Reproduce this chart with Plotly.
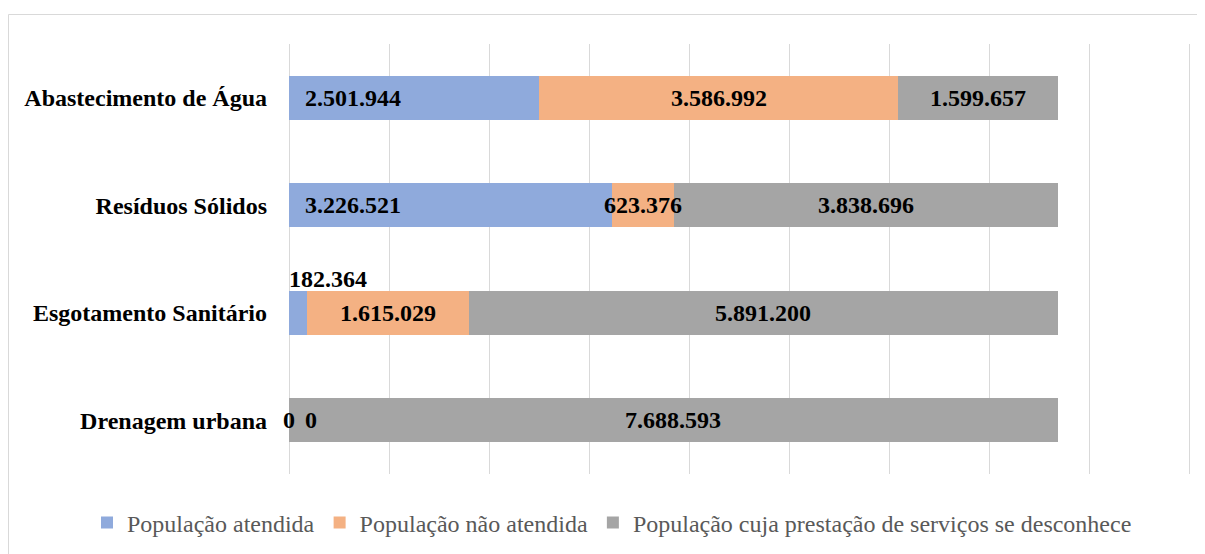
import plotly.graph_objects as go

categories = ["Abastecimento de Água", "Resíduos Sólidos", "Esgotamento Sanitário", "Drenagem urbana"]
series_names = ["População atendida", "População não atendida", "População cuja prestação de serviços se desconhece"]
atendida = [2501944, 3226521, 182364, 0]
nao_atendida = [3586992, 623376, 1615029, 0]
desconhece = [1599657, 3838696, 5891200, 7688593]
colors = ["#8FAADC", "#F4B183", "#A5A5A5"]

series = [atendida, nao_atendida, desconhece]

def fmt(v):
    return f"{v:,}".replace(",", ".")

# page body has an 8px margin: figure is laid out in its own coordinates
W, H = 1197, 546
L, T = 281, 36
PLOT_W, PLOT_H = 902, 430
X_MAX = 9020000  # 100 px per million, last gridline (9 M) stays inside the plot

fig = go.Figure()
for name, vals, col in zip(series_names, series, colors):
    fig.add_trace(go.Bar(
        y=categories, x=vals, name=name, orientation="h",
        marker=dict(color=col, line=dict(width=0)),
        hoverinfo="x+name",
    ))

FONT = "Liberation Serif, Times New Roman, serif"
label_font = dict(family=FONT, size=24, color="#000000")
annotations = []
for i, cat in enumerate(categories):
    base = 0
    for s, vals in enumerate(series):
        v = vals[i]
        txt = "<b>" + fmt(v) + "</b>"
        if v == 0:
            annotations.append(dict(x=0, y=cat, text=txt, showarrow=False, font=label_font,
                                    xanchor="center", xshift=0 if s == 0 else 22))
        elif s == 0 and v < 500000:
            annotations.append(dict(x=0, y=cat, text=txt, showarrow=False, font=label_font,
                                    xanchor="left", xshift=-2, yshift=34))
        elif s == 0:
            annotations.append(dict(x=0, y=cat, text=txt, showarrow=False, font=label_font,
                                    xanchor="left", xshift=14))
        else:
            annotations.append(dict(x=base + v / 2, y=cat, text=txt, showarrow=False,
                                    font=label_font, xanchor="center"))
        base += v

fig.update_layout(
    width=W, height=H,
    margin=dict(l=L, r=W - L - PLOT_W, t=T, b=H - T - PLOT_H, autoexpand=False),
    paper_bgcolor="white", plot_bgcolor="white",
    barmode="stack", bargap=0.595,
    showlegend=True,
    legend=dict(orientation="h", xref="paper", yref="paper",
                x=(79 - L) / PLOT_W, xanchor="left",
                y=(T + PLOT_H - 515) / PLOT_H, yanchor="middle",
                font=dict(family=FONT, size=24, color="#595959"),
                traceorder="normal", itemwidth=30, bgcolor="rgba(0,0,0,0)"),
    xaxis=dict(range=[0, X_MAX], tick0=0, dtick=1000000, showgrid=True, gridcolor="#D9D9D9",
               gridwidth=1, showticklabels=False, zeroline=True, zerolinecolor="#D9D9D9",
               zerolinewidth=1, showline=False, ticks=""),
    yaxis=dict(categoryorder="array", categoryarray=categories, autorange="reversed",
               showgrid=False, showline=False, ticks="", ticklabelstandoff=21,
               tickfont=dict(family=FONT, size=24, color="#000000")),
    annotations=annotations,
    shapes=[dict(type="rect", xref="paper", yref="paper",
                 x0=(0.5 - L) / PLOT_W, x1=1.3, y0=-0.5, y1=(PLOT_H + T - 6.5) / PLOT_H,
                 line=dict(color="#D9D9D9", width=1), fillcolor="rgba(0,0,0,0)", layer="below")],
)
fig.update_yaxes(tickprefix="<b>", ticksuffix="</b>")
fig.write_html("out.html")
